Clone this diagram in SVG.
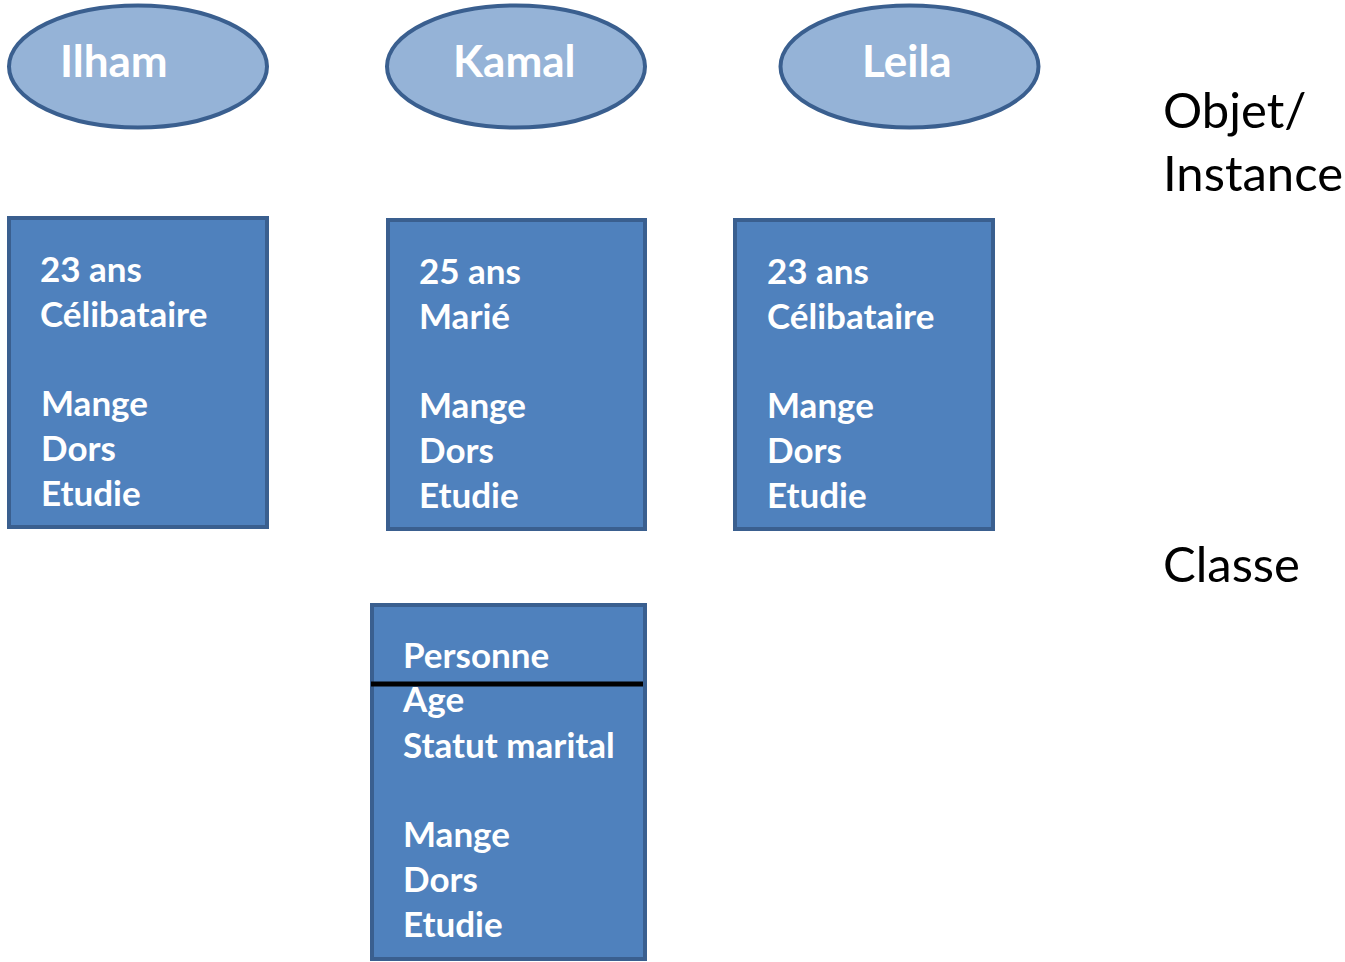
<svg xmlns="http://www.w3.org/2000/svg" width="1345" height="962" viewBox="0 0 1345 962">
  <style>
    .obj { fill: #95b3d7; stroke: #3a5f8f; stroke-width: 4; }
    .box { fill: #4f81bd; stroke: #3a5f8f; stroke-width: 4; }
    .name { font-family: Lato, "Open Sans", sans-serif; font-weight: bold; font-size: 44px; fill: #ffffff; }
    .attr { font-family: Lato, "Open Sans", sans-serif; font-weight: bold; font-size: 35px; fill: #ffffff; }
    .side { font-family: Lato, "Open Sans", sans-serif; font-size: 49px; fill: #000000; }
    .sep { stroke: #000000; stroke-width: 5; }
  </style>
  <rect width="1345" height="962" fill="#ffffff"/>

  <!-- instances (objects) -->
  <g id="ilham">
    <ellipse class="obj" cx="138" cy="66.5" rx="129" ry="61"/>
    <text class="name" x="60" y="77">Ilham</text>
  </g>
  <g id="kamal">
    <ellipse class="obj" cx="516" cy="66.5" rx="129" ry="61"/>
    <text class="name" x="453" y="77">Kamal</text>
  </g>
  <g id="leila">
    <ellipse class="obj" cx="909.5" cy="66.5" rx="129" ry="61"/>
    <text class="name" x="862" y="77">Leila</text>
  </g>

  <!-- instance state and behaviour -->
  <g id="ilham-data">
    <rect class="box" x="9" y="218" width="258" height="309"/>
    <text class="attr" x="40" y="282">23 ans</text>
    <text class="attr" x="40" y="327">Célibataire</text>
    <text class="attr" x="41" y="416">Mange</text>
    <text class="attr" x="41" y="461">Dors</text>
    <text class="attr" x="41" y="506">Etudie</text>
  </g>
  <g id="kamal-data">
    <rect class="box" x="388" y="220" width="257" height="309"/>
    <text class="attr" x="419" y="284">25 ans</text>
    <text class="attr" x="419" y="329">Marié</text>
    <text class="attr" x="419" y="418">Mange</text>
    <text class="attr" x="419" y="463">Dors</text>
    <text class="attr" x="419" y="508">Etudie</text>
  </g>
  <g id="leila-data">
    <rect class="box" x="735" y="220" width="258" height="309"/>
    <text class="attr" x="767" y="284">23 ans</text>
    <text class="attr" x="767" y="329">Célibataire</text>
    <text class="attr" x="767" y="418">Mange</text>
    <text class="attr" x="767" y="463">Dors</text>
    <text class="attr" x="767" y="508">Etudie</text>
  </g>

  <!-- class -->
  <g id="personne">
    <rect class="box" x="372" y="605" width="273" height="354"/>
    <text class="attr" x="403" y="668">Personne</text>
    <line class="sep" x1="371" y1="684" x2="643" y2="684"/>
    <text class="attr" x="403" y="712">Age</text>
    <text class="attr" x="403" y="758">Statut marital</text>
    <text class="attr" x="403" y="847">Mange</text>
    <text class="attr" x="403" y="892">Dors</text>
    <text class="attr" x="403" y="937">Etudie</text>
  </g>

  <!-- side labels -->
  <g id="labels">
    <text class="side" x="1163" y="128">Objet/</text>
    <text class="side" x="1163" y="191">Instance</text>
    <text class="side" x="1163" y="582">Classe</text>
  </g>
</svg>
